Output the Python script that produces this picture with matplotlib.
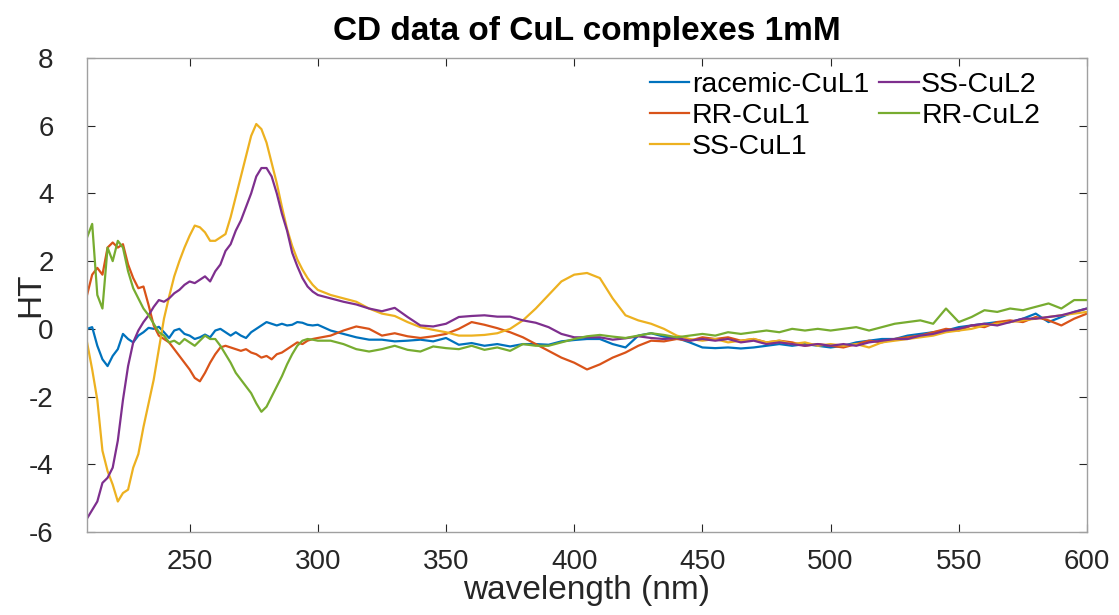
import matplotlib
matplotlib.use("Agg")
import matplotlib.pyplot as plt

plt.rcParams['font.family'] = ['Liberation Sans', 'DejaVu Sans']
plt.rcParams['axes.unicode_minus'] = False

# wavelength grid (nm)
wl = list(range(210, 301, 2)) + list(range(305, 601, 5))

racemic_cul1 = [
    0.0, 0.05, -0.5, -0.9, -1.1, -0.8, -0.6, -0.15, -0.3, -0.4,
    -0.2, -0.1, 0.03, 0.0, 0.06, -0.1, -0.27, -0.05, 0.0, -0.15,
    -0.2, -0.3, -0.25, -0.17, -0.25, -0.05, 0.0, -0.1, -0.2, -0.1,
    -0.2, -0.27, -0.1, 0.0, 0.1, 0.2, 0.15, 0.1, 0.15, 0.1,
    0.12, 0.2, 0.18, 0.12, 0.1, 0.12,
    -0.05, -0.15, -0.25, -0.32, -0.32, -0.37, -0.35, -0.32, -0.37, -0.27,
    -0.47, -0.42, -0.5, -0.45, -0.52, -0.45, -0.45, -0.47, -0.37, -0.33,
    -0.3, -0.3, -0.45, -0.55, -0.2, -0.13, -0.23, -0.27, -0.4, -0.55,
    -0.57, -0.55, -0.58, -0.55, -0.5, -0.45, -0.5, -0.45, -0.5, -0.55,
    -0.5, -0.4, -0.35, -0.3, -0.3, -0.2, -0.15, -0.1, -0.05, 0.05,
    0.1, 0.15, 0.2, 0.2, 0.3, 0.45, 0.2, 0.35, 0.5, 0.6,
]

rr_cul1 = [
    1.0, 1.6, 1.8, 1.6, 2.4, 2.55, 2.4, 2.5, 1.9, 1.5,
    1.2, 1.25, 0.7, 0.1, -0.2, -0.3, -0.4, -0.6, -0.8, -1.0,
    -1.2, -1.45, -1.55, -1.3, -1.0, -0.75, -0.55, -0.5, -0.55, -0.6,
    -0.65, -0.6, -0.7, -0.75, -0.85, -0.8, -0.9, -0.75, -0.7, -0.6,
    -0.5, -0.4, -0.45, -0.35, -0.3, -0.27,
    -0.2, -0.05, 0.07, 0.0, -0.2, -0.13, -0.22, -0.27, -0.22, -0.15,
    0.0, 0.2, 0.12, 0.02, -0.1, -0.25, -0.45, -0.65, -0.85, -1.0,
    -1.2, -1.05, -0.85, -0.7, -0.5, -0.35, -0.37, -0.3, -0.35, -0.25,
    -0.3, -0.25, -0.35, -0.3, -0.4, -0.35, -0.4, -0.5, -0.45, -0.5,
    -0.55, -0.45, -0.35, -0.4, -0.3, -0.25, -0.2, -0.1, 0.0, -0.05,
    0.1, 0.05, 0.2, 0.25, 0.2, 0.35, 0.25, 0.1, 0.3, 0.45,
]

ss_cul1 = [
    -0.4, -1.2, -2.1, -3.6, -4.2, -4.6, -5.1, -4.85, -4.75, -4.1,
    -3.7, -2.9, -2.2, -1.5, -0.6, 0.3, 0.95, 1.55, 2.0, 2.4,
    2.75, 3.05, 3.0, 2.85, 2.6, 2.6, 2.7, 2.8, 3.3, 3.9,
    4.5, 5.1, 5.7, 6.05, 5.9, 5.5, 4.9, 4.3, 3.6, 2.95,
    2.45, 2.05, 1.75, 1.5, 1.3, 1.15,
    1.0, 0.9, 0.8, 0.6, 0.45, 0.38, 0.2, 0.05, -0.03, -0.1,
    -0.2, -0.2, -0.18, -0.13, 0.0, 0.25, 0.6, 1.0, 1.4, 1.6,
    1.65, 1.5, 0.9, 0.4, 0.25, 0.15, 0.0, -0.2, -0.3, -0.35,
    -0.3, -0.4, -0.35, -0.3, -0.4, -0.35, -0.45, -0.4, -0.5, -0.45,
    -0.5, -0.45, -0.55, -0.4, -0.35, -0.3, -0.25, -0.2, -0.1, -0.05,
    0.0, 0.1, 0.15, 0.2, 0.25, 0.3, 0.35, 0.4, 0.45, 0.5,
]

ss_cul2 = [
    -5.6, -5.35, -5.1, -4.55, -4.4, -4.1, -3.3, -2.1, -1.1, -0.4,
    -0.05, 0.2, 0.4, 0.65, 0.85, 0.8, 0.9, 1.05, 1.15, 1.3,
    1.4, 1.35, 1.45, 1.55, 1.4, 1.7, 1.9, 2.3, 2.5, 2.9,
    3.2, 3.6, 4.0, 4.5, 4.75, 4.75, 4.5, 4.0, 3.4, 2.9,
    2.25, 1.85, 1.5, 1.25, 1.1, 1.0,
    0.9, 0.8, 0.72, 0.6, 0.52, 0.62, 0.35, 0.1, 0.07, 0.15,
    0.35, 0.38, 0.4, 0.36, 0.36, 0.25, 0.18, 0.05, -0.15, -0.25,
    -0.25, -0.25, -0.32, -0.28, -0.22, -0.27, -0.3, -0.27, -0.35, -0.3,
    -0.35, -0.3, -0.4, -0.35, -0.45, -0.4, -0.45, -0.5, -0.45, -0.5,
    -0.45, -0.5, -0.4, -0.35, -0.3, -0.3, -0.2, -0.15, -0.05, 0.0,
    0.1, 0.15, 0.1, 0.2, 0.3, 0.3, 0.35, 0.4, 0.5, 0.6,
]

rr_cul2 = [
    2.7, 3.1, 1.0, 0.6, 2.4, 2.0, 2.6, 2.4, 1.7, 1.2,
    0.9, 0.6, 0.4, 0.15, -0.1, -0.2, -0.4, -0.35, -0.45, -0.3,
    -0.4, -0.5, -0.35, -0.2, -0.3, -0.3, -0.5, -0.75, -1.0, -1.3,
    -1.5, -1.7, -1.9, -2.2, -2.45, -2.3, -2.0, -1.7, -1.4, -1.05,
    -0.75, -0.5, -0.35, -0.3, -0.32, -0.35,
    -0.35, -0.45, -0.6, -0.67, -0.6, -0.5, -0.62, -0.67, -0.52, -0.57,
    -0.6, -0.5, -0.62, -0.55, -0.65, -0.45, -0.5, -0.5, -0.4, -0.3,
    -0.22, -0.18, -0.23, -0.27, -0.2, -0.13, -0.18, -0.25, -0.2, -0.15,
    -0.2, -0.1, -0.15, -0.1, -0.05, -0.1, 0.0, -0.05, 0.0, -0.05,
    0.0, 0.05, -0.05, 0.05, 0.15, 0.2, 0.25, 0.15, 0.6, 0.2,
    0.35, 0.55, 0.5, 0.6, 0.55, 0.65, 0.75, 0.6, 0.85, 0.85,
]

series = [
    ("racemic-CuL1", racemic_cul1, "#0072BD"),
    ("RR-CuL1", rr_cul1, "#D95319"),
    ("SS-CuL1", ss_cul1, "#EDB120"),
    ("SS-CuL2", ss_cul2, "#7E2F8E"),
    ("RR-CuL2", rr_cul2, "#77AC30"),
]

fig = plt.figure(figsize=(11.19, 6.15), dpi=100)
ax = fig.add_axes([0.0778, 0.135, 0.8936, 0.7707])

for name, vals, col in series:
    ax.plot(wl, vals, color=col, lw=1.6, label=name)

ax.set_xlim(210, 600)
ax.set_ylim(-6, 8)
ax.set_xticks(range(250, 601, 50))
ax.set_yticks(range(-6, 9, 2))
ax.tick_params(direction='in', labelsize=20, colors='#262626', length=6,
               top=True, right=True, labeltop=False, labelright=False)
ax.tick_params(axis='x', pad=12)
ax.tick_params(axis='y', pad=24)
for s in ax.spines.values():
    s.set_color('#a0a0a0')
    s.set_linewidth(1.0)

ax.set_xlabel('wavelength (nm)', fontsize=24, color='#262626', labelpad=0)
ax.set_ylabel('HT', fontsize=24, color='#262626')
ax.yaxis.set_label_coords(-0.041, 0.5)
ax.set_title('CD data of CuL complexes 1mM', fontsize=24, fontweight='bold', pad=13)

ax.legend(loc='upper right', ncol=2, frameon=False, fontsize=20.5,
          handlelength=1.4, handletextpad=0.08, columnspacing=0.35,
          labelspacing=0.18, borderpad=0, borderaxespad=0,
          bbox_to_anchor=(1040 / 1119, 1 - 72 / 615),
          bbox_transform=fig.transFigure)

fig.savefig('out.png', dpi=100)
